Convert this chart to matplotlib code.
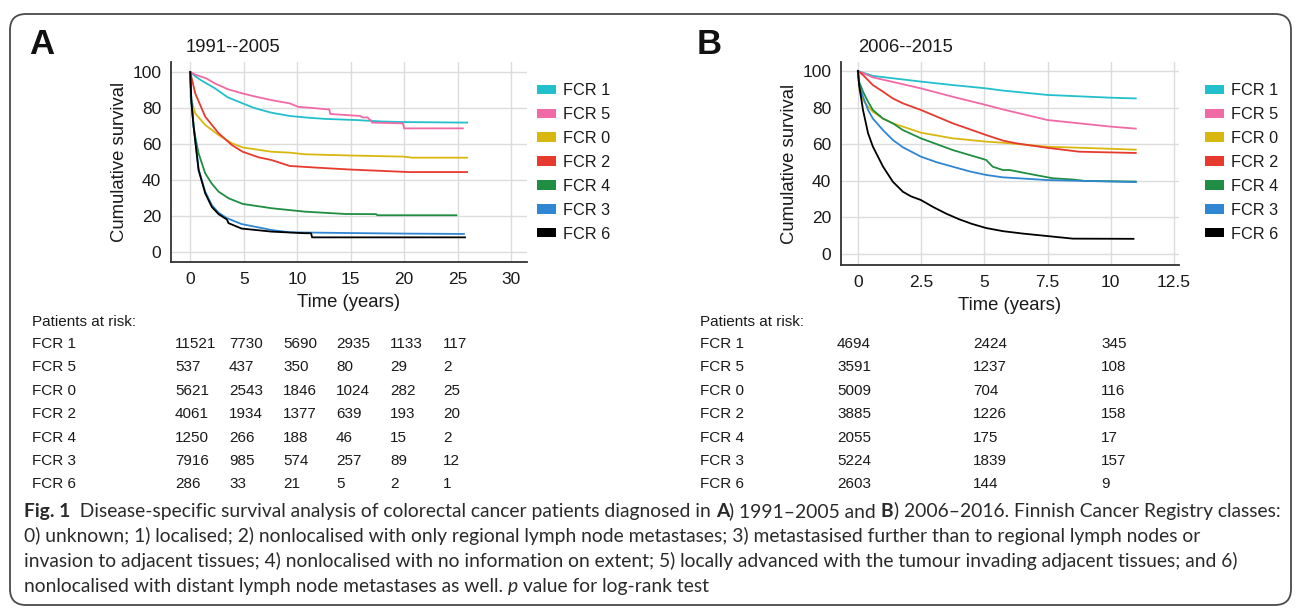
import matplotlib
matplotlib.use('Agg')
import matplotlib.pyplot as plt
from matplotlib.patches import Patch, FancyBboxPatch
from matplotlib import font_manager as fm

W, H, DPI = 1296, 610, 100

# ---------------- data ----------------
groups = ['FCR 1', 'FCR 5', 'FCR 0', 'FCR 2', 'FCR 4', 'FCR 3', 'FCR 6']
group_colors = ['#22bfcc', '#f06aa6', '#d8b80f', '#e63a2e', '#1f8e42', '#2f86d2', '#000000']

# Panel A (1991--2005): (time in years, cumulative survival %)
a_fcr1 = [(0, 100), (0.5, 97.5), (1, 95.5), (2.3, 91), (3.5, 86), (4.9, 82.6), (6, 80), (7.6, 77.4),
          (9.3, 75.6), (10.7, 74.8), (12.5, 74), (15.6, 73.3), (18, 72.5), (20, 72.2), (25.9, 71.9)]
a_fcr5 = [(0, 100), (0.5, 98.5), (1.5, 96.5), (2.3, 93.7), (3.5, 90.5), (4.9, 88.1), (6, 86.5),
          (7.6, 84.4), (9.3, 82.6), (10.1, 80.7), (11.5, 80), (12.8, 79.3), (13.0, 79.3), (13.1, 76.7),
          (15.9, 75.6), (16.1, 74.8), (16.6, 74.8), (16.8, 73.3), (16.9, 73.3), (17.0, 71.9),
          (19.9, 71.5), (20.0, 68.7), (25.5, 68.7)]
a_fcr0 = [(0, 100), (0.03, 86), (0.47, 77), (1.4, 70.6), (2.65, 65), (3.9, 60.4), (4.9, 58.1),
          (7.6, 55.7), (9.3, 55.2), (10.7, 54.3), (15, 53.6), (19.9, 53), (20.8, 52.4), (25.9, 52.4)]
a_fcr2 = [(0, 100), (0.47, 88.1), (1.4, 75.2), (2.65, 66), (3.9, 59.4), (4.9, 55.7), (6.4, 52.6),
          (7.6, 51.1), (9.3, 47.8), (12, 46.8), (15, 45.8), (20.5, 44.4), (25.9, 44.4)]
a_fcr4 = [(0, 100), (0.1, 84), (0.31, 70), (0.47, 64), (0.78, 54.8), (1.4, 43.7), (2.0, 38.1),
          (2.65, 33.5), (3.6, 29.8), (4.9, 26.7), (7.6, 24.3), (10.7, 22.4), (14.5, 21.1), (17.4, 21.0),
          (17.5, 20.4), (24.9, 20.4)]
a_fcr3 = [(0, 100), (0.1, 85), (0.31, 70), (0.78, 46), (1.4, 33.5), (2.02, 26), (2.65, 21.8),
          (3.43, 18.8), (4.8, 15.5), (7.6, 12.2), (9.3, 10.9), (15, 10.5), (20, 10.2), (25.6, 10)]
a_fcr6 = [(0, 100), (0.1, 84), (0.31, 70), (0.78, 45.5), (1.4, 32.6), (2.02, 25), (2.65, 21),
          (3.43, 18), (3.58, 16), (4.8, 13), (7.6, 11.3), (10.7, 10.4), (11.3, 10.4), (11.4, 8.1),
          (25.7, 8.1)]

# Panel B (2006--2015)
b_fcr1 = [(0, 100), (0.59, 97.3), (2.49, 94.2), (3.75, 92.3), (5.07, 90.5), (5.73, 89.3), (7.5, 86.9),
          (10, 85.4), (10.99, 85)]
b_fcr5 = [(0, 100), (0.59, 96.5), (2.49, 90.5), (3.75, 85.9), (5.07, 81.4), (5.73, 79), (7.5, 73.2),
          (10, 69.6), (10.99, 68.5)]
b_fcr0 = [(0, 100), (0.05, 90), (0.2, 84.1), (0.4, 80.5), (0.59, 77.7), (0.99, 74), (1.38, 71.4),
          (1.78, 69.6), (2.49, 66.3), (3.75, 63.2), (5.07, 61.4), (5.73, 60.8), (7.5, 58.6), (10, 57.5),
          (10.99, 57)]
b_fcr2 = [(0, 100), (0.2, 97.8), (0.59, 92.3), (0.99, 88.7), (1.38, 85), (1.78, 82.3), (2.49, 78.7),
          (3.75, 71.4), (5.07, 65), (5.73, 62), (6.25, 60.5), (7.5, 58), (8.75, 55.9), (10.99, 55.2)]
b_fcr4 = [(0, 100), (0.05, 94), (0.2, 88.7), (0.4, 83.2), (0.59, 78.7), (0.99, 74), (1.38, 71.4),
          (1.78, 67.7), (2.49, 63.2), (3.75, 56.8), (5.07, 51.4), (5.33, 47.7), (5.73, 45.9), (6, 45.9),
          (7, 43.2), (7.7, 41.4), (8.5, 40.7), (9, 39.9), (10.99, 39.6)]
b_fcr3 = [(0, 100), (0.05, 92), (0.2, 86), (0.4, 78.7), (0.59, 74), (0.99, 67.7), (1.38, 62.3),
          (1.78, 58.3), (2.49, 53.2), (3.1, 50.2), (3.75, 47.7), (4.4, 45.2), (5.07, 43.2), (5.73, 41.9),
          (7.5, 40.4), (10.99, 39.3)]
b_fcr6 = [(0, 100), (0.05, 92), (0.2, 78.7), (0.4, 66), (0.59, 58.7), (0.99, 47.8), (1.38, 39.5),
          (1.78, 34), (2.1, 31.5), (2.49, 29.5), (3, 25.5), (3.5, 22), (4, 19), (4.5, 16.5), (5.07, 14.2),
          (5.73, 12.5), (6.5, 11.2), (7.5, 9.8), (8.5, 8.4), (10.9, 8.3)]

a_curves = [a_fcr1, a_fcr5, a_fcr0, a_fcr2, a_fcr4, a_fcr3, a_fcr6]
b_curves = [b_fcr1, b_fcr5, b_fcr0, b_fcr2, b_fcr4, b_fcr3, b_fcr6]

a_xticks = [0, 5, 10, 15, 20, 25, 30]
b_xticks = [0, 2.5, 5, 7.5, 10, 12.5]
yticks = [0, 20, 40, 60, 80, 100]

a_title = '1991--2005'
b_title = '2006--2015'
p_text = '= 0.001'

# Patients at risk
a_risk = [[11521, 7730, 5690, 2935, 1133, 117],
          [537, 437, 350, 80, 29, 2],
          [5621, 2543, 1846, 1024, 282, 25],
          [4061, 1934, 1377, 639, 193, 20],
          [1250, 266, 188, 46, 15, 2],
          [7916, 985, 574, 257, 89, 12],
          [286, 33, 21, 5, 2, 1]]
b_risk = [[4694, 2424, 345],
          [3591, 1237, 108],
          [5009, 704, 116],
          [3885, 1226, 158],
          [2055, 175, 17],
          [5224, 1839, 157],
          [2603, 144, 9]]

caption_lines = [
    [("Fig. 1", 'bold'), ("  Disease-specific survival analysis of colorectal cancer patients diagnosed in ", 'normal'),
     ("A", 'bold'), (") 1991\u20132005 and ", 'normal'), ("B", 'bold'),
     (") 2006\u20132016. Finnish Cancer Registry classes:", 'normal')],
    [("0) unknown; 1) localised; 2) nonlocalised with only regional lymph node metastases; 3) metastasised further than to regional lymph nodes or", 'normal')],
    [("invasion to adjacent tissues; 4) nonlocalised with no information on extent; 5) locally advanced with the tumour invading adjacent tissues; and 6)", 'normal')],
    [("nonlocalised with distant lymph node metastases as well. ", 'normal'), ("p", 'italic'),
     (" value for log-rank test", 'normal')],
]

# ---------------- fonts ----------------
def have_font(name):
    try:
        fm.findfont(fm.FontProperties(family=name), fallback_to_default=False)
        return True
    except Exception:
        return False

MAIN = 'Liberation Sans' if have_font('Liberation Sans') else 'DejaVu Sans'
CAP = 'Lato' if have_font('Lato') else MAIN
plt.rcParams['font.family'] = [MAIN, 'DejaVu Sans']
TXT = '#1a1a1a'

fig = plt.figure(figsize=(W / DPI, H / DPI), dpi=DPI)
fig.patch.set_facecolor('white')

# background axes in pixel coordinates
bg = fig.add_axes([0, 0, 1, 1], zorder=-5)
bg.set_xlim(0, W)
bg.set_ylim(H, 0)
bg.axis('off')

bg.add_patch(FancyBboxPatch((10, 14), 1281, 591, boxstyle='round,pad=0,rounding_size=16',
                            facecolor='none', edgecolor='#4a4a4a', lw=1.3))


def px_axes(l, t, r, b):
    return fig.add_axes([l / W, 1 - b / H, (r - l) / W, (b - t) / H])


def style_axes(ax, curves, xticks, xlim, ylim):
    for c, col in zip(curves, group_colors):
        ts = [p[0] for p in c]
        ss = [p[1] for p in c]
        ax.plot(ts, ss, color=col, lw=1.3, solid_joinstyle='round')
    ax.set_xlim(*xlim)
    ax.set_ylim(*ylim)
    ax.set_xticks(xticks)
    ax.set_xticklabels([('%g' % v) for v in xticks])
    ax.set_yticks(yticks)
    ax.grid(True, color='#dcdcdc', lw=1.0)
    ax.set_axisbelow(True)
    for s in ['top', 'right']:
        ax.spines[s].set_visible(False)
    for s in ['left', 'bottom']:
        ax.spines[s].set_color('#333333')
        ax.spines[s].set_linewidth(1.3)
    ax.tick_params(length=0, labelsize=12.5, pad=7, colors=TXT)
    ax.set_xlabel('Time (years)', fontsize=13.3, color=TXT, labelpad=5)
    ax.set_ylabel('Cumulative survival', fontsize=13.3, color=TXT, labelpad=3)


axA = px_axes(171, 62, 527, 262)
style_axes(axA, a_curves, a_xticks, (-1.8, 31.5), (-5.6, 105.6))
axB = px_axes(841, 62, 1179, 265)
style_axes(axB, b_curves, b_xticks, (-0.67, 12.7), (-6, 104.9))

handles = [Patch(facecolor=c, edgecolor='none', label=g) for g, c in zip(groups, group_colors)]
for lx in [537, 1205]:
    leg = fig.legend(handles=handles, loc='upper left', bbox_to_anchor=(lx / W, 1 - 83 / H),
                     bbox_transform=fig.transFigure, frameon=False, fontsize=11.7,
                     handlelength=1.17, handleheight=0.5, handletextpad=0.45, labelspacing=0.55,
                     borderpad=0, borderaxespad=0)
    for t in leg.get_texts():
        t.set_color(TXT)

# titles, panel letters, p values
bg.text(186, 47, a_title, fontsize=13.3, va='center', ha='left', color=TXT)
bg.text(858, 47, b_title, fontsize=13.3, va='center', ha='left', color=TXT)
bg.text(29, 44, 'A', fontsize=25, fontweight='bold', va='center', ha='left', color='#111111')
bg.text(697, 44, 'B', fontsize=25, fontweight='bold', va='center', ha='left', color='#111111')
for xr in [524, 1177]:
    t = bg.text(xr, 80, ' ' + p_text, fontsize=11.7, va='center', ha='right', color=TXT)
    fig.canvas.draw()
    bb = t.get_window_extent()
    bg.text(xr - bb.width, 80, 'p', fontsize=11.7, style='italic', va='center', ha='right', color=TXT)

# patients at risk tables
row_y0, row_dy = 344, 23.4
a_cols = [175, 229, 283, 336, 390, 443]
b_cols = [837, 973, 1101]
for lx, cols, risk in [(32, a_cols, a_risk), (700, b_cols, b_risk)]:
    bg.text(lx, 322, 'Patients at risk:', fontsize=11, va='center', ha='left', color=TXT)
    for i, g in enumerate(groups):
        y = row_y0 + i * row_dy
        bg.text(lx, y, g, fontsize=11, va='center', ha='left', color=TXT)
        for cx, v in zip(cols, risk[i]):
            bg.text(cx, y, str(v), fontsize=11, va='center', ha='left', color=TXT)

# caption with mixed styles
fig.canvas.draw()
renderer = fig.canvas.get_renderer()


def run_kw(weight, size):
    kw = dict(fontsize=size, family=[CAP, 'DejaVu Sans'])
    if weight == 'bold':
        kw['fontweight'] = 'bold'
    elif weight == 'italic':
        kw['style'] = 'italic'
    return kw


def run_width(text, weight, size):
    kw = run_kw(weight, size)
    t1 = bg.text(0, 0, '|' + text + '|', **kw)
    t2 = bg.text(0, 0, '||', **kw)
    w = t1.get_window_extent(renderer).width - t2.get_window_extent(renderer).width
    t1.remove()
    t2.remove()
    return w


base = 12.0
w1 = sum(run_width(t, s, base) for t, s in caption_lines[0])
cap_size = base * 1255 / w1
cap_base = [517, 542, 567, 592]
for line, y in zip(caption_lines, cap_base):
    x = 24
    for text, s in line:
        w = run_width(text, s, cap_size)
        bg.text(x, y, text, va='baseline', ha='left', color='#2a2a2a', **run_kw(s, cap_size))
        x += w

fig.savefig('out.png', dpi=DPI, facecolor='white')
